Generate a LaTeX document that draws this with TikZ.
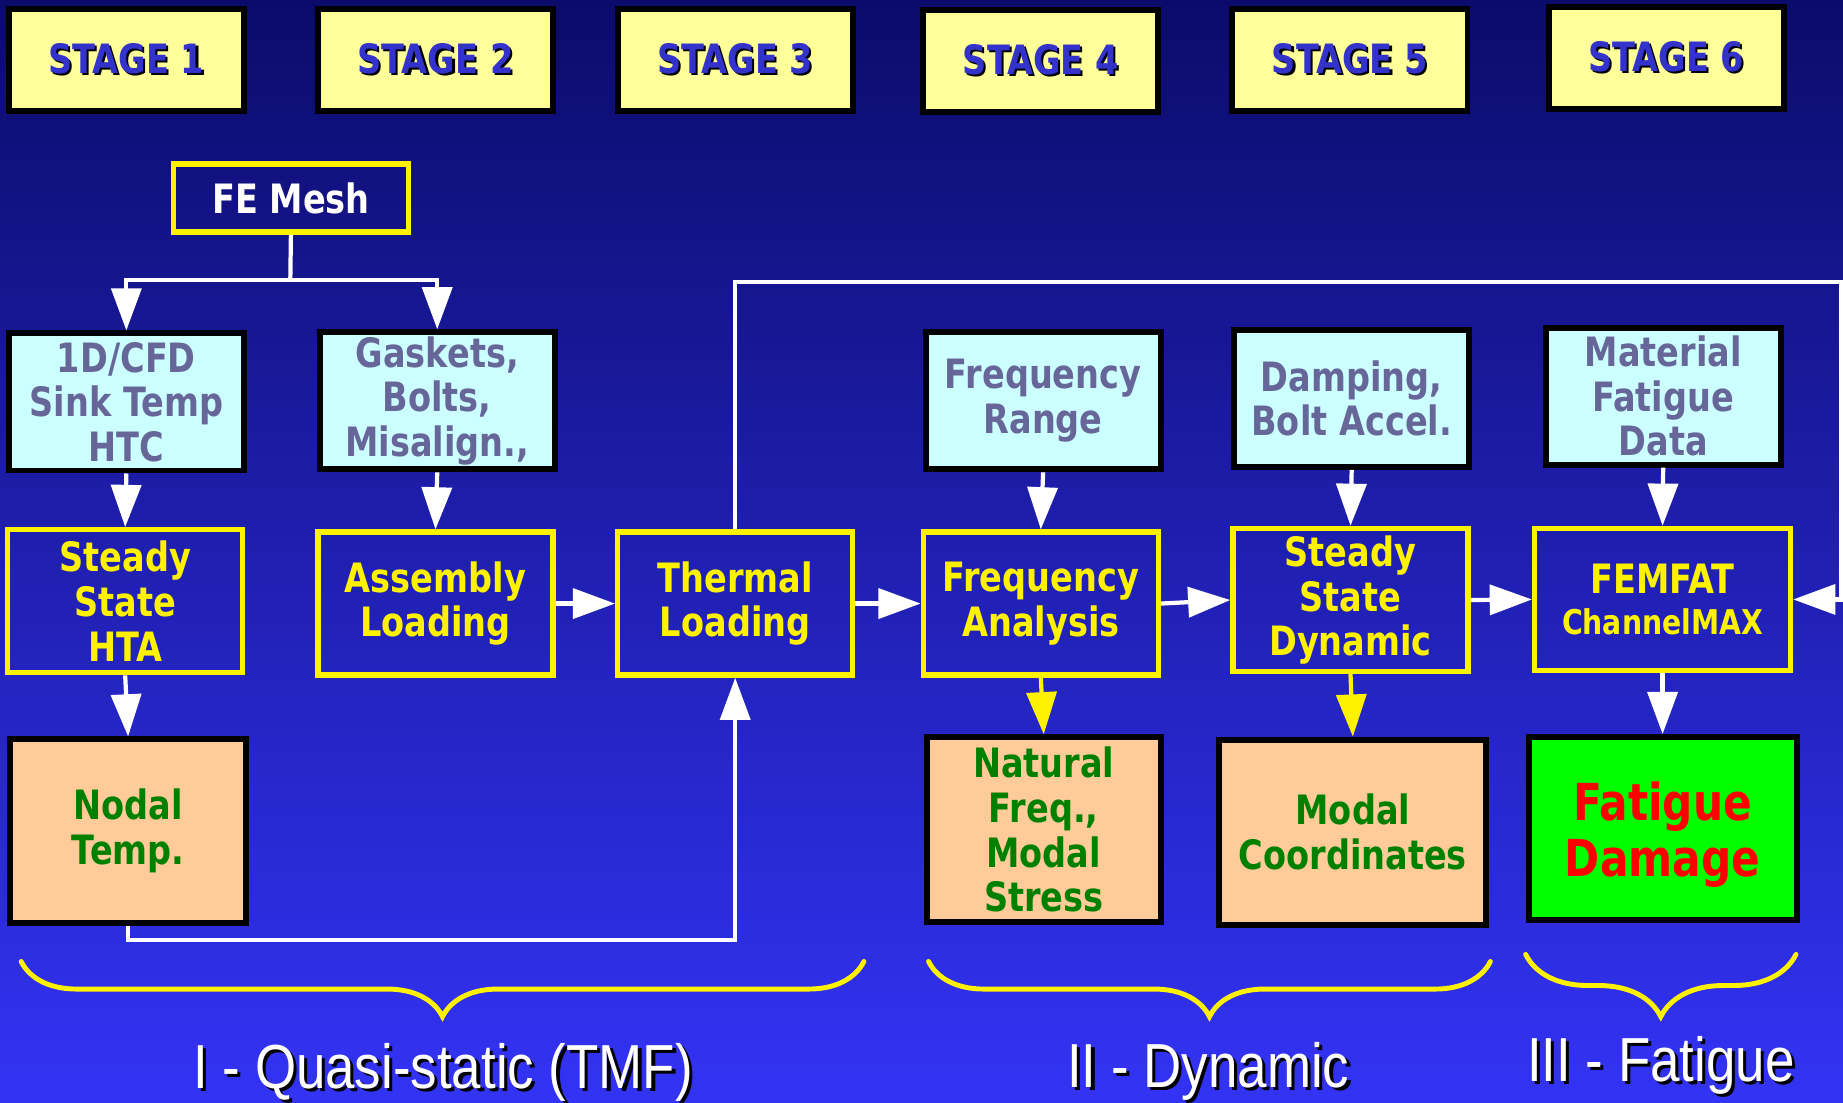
\documentclass[tikz,border=0pt]{standalone}
\usepackage{fontspec}
\setmainfont{DejaVu Sans}
\newfontfamily\boxfont{DejaVu Sans}[FakeStretch=0.83]
\newfontfamily\phasefont{Liberation Sans}[FakeStretch=0.85]
\usetikzlibrary{positioning}
\usetikzlibrary{arrows.meta}
\usetikzlibrary{decorations.pathreplacing}

\definecolor{bgtop}{HTML}{0B0B6B}
\definecolor{bgmid}{HTML}{2222BC}
\definecolor{bgbot}{HTML}{3333F5}
\definecolor{stageyellow}{HTML}{FFFF99}
\definecolor{stageblue}{HTML}{3333CC}
\definecolor{incyan}{HTML}{CCFFFF}
\definecolor{ingray}{HTML}{666699}
\definecolor{outorange}{HTML}{FFCC99}
\definecolor{outgreen}{HTML}{008000}
\definecolor{damagegreen}{HTML}{00FF00}
\definecolor{damagered}{HTML}{FF0000}

% text with a small black drop shadow
\newcommand{\shadowed}[2]{\makebox[0pt][l]{\color{black}\hspace{#2}\raisebox{-#2}{#1}}#1}
\newcommand{\boxtext}{\boxfont\bfseries\fontsize{11.5}{12.7}\selectfont}

\tikzset{
    stagebox/.style = {rectangle, line width=1.7pt, draw=black, fill=stageyellow, text=stageblue, minimum width=2.35cm, minimum height=1.02cm, inner sep=0pt, font=\boxtext},
    meshbox/.style = {rectangle, line width=1.5pt, draw=yellow, text=white, minimum width=2.35cm, minimum height=0.68cm, inner sep=0pt, font=\boxtext},
    inbox/.style = {rectangle, line width=1.7pt, draw=black, fill=incyan, text=ingray, minimum width=2.35cm, minimum height=1.37cm, align=center, inner sep=0pt, font=\boxtext},
    stepbox/.style = {rectangle, line width=1.5pt, draw=yellow, text=yellow, minimum width=2.35cm, minimum height=1.43cm, align=center, inner sep=0pt, font=\boxtext},
    outbox/.style = {rectangle, line width=1.7pt, draw=black, fill=outorange, text=outgreen, minimum width=2.36cm, minimum height=1.83cm, align=center, inner sep=0pt, font=\boxtext},
    wire/.style = {draw=white, line width=1.2pt},
    arrw/.style = {wire, -{Triangle[length=12pt,width=8.5pt]}},
    arry/.style = {draw=yellow, line width=1.2pt, -{Triangle[length=12pt,width=8.5pt]}},
    phasebrace/.style = {draw=yellow, line width=1.4pt, line cap=round, decorate, decoration={brace, mirror, amplitude=#1}},
    phase/.style = {text=white, anchor=base, inner sep=0pt, font=\phasefont\fontsize{17.7}{20}\selectfont}
}

\begin{document}
\begin{tikzpicture}[x=0.011754cm, y=-0.011754cm]

  \useasboundingbox (0,0) rectangle (1568,938);
  \shade[top color=bgtop, middle color=bgmid, bottom color=bgbot] (0,0) rectangle (1568,938);

  % stage headers
  \node[stagebox] (stage1) at (107.5,51) {\shadowed{STAGE 1}{0.6pt}};
  \node[stagebox] (stage2) at (370.5,51) {\shadowed{STAGE 2}{0.6pt}};
  \node[stagebox] (stage3) at (625.5,51) {\shadowed{STAGE 3}{0.6pt}};
  \node[stagebox] (stage4) at (885.5,52) {\shadowed{STAGE 4}{0.6pt}};
  \node[stagebox] (stage5) at (1148.5,51) {\shadowed{STAGE 5}{0.6pt}};
  \node[stagebox] (stage6) at (1417.5,49) {\shadowed{STAGE 6}{0.6pt}};

  \node[meshbox] (mesh) at (247.5,168.5) {FE Mesh};

  % inputs
  \node[inbox] (cfd) at (107.5,342) {1D/CFD\\Sink Temp\\HTC};
  \node[inbox] (gask) at (372,341) {Gaskets,\\Bolts,\\Misalign.,};
  \node[inbox] (frange) at (887.5,341) {Frequency\\Range};
  \node[inbox] (damp) at (1150,339) {Damping,\\Bolt Accel.};
  \node[inbox] (matl) at (1415,337) {Material\\Fatigue\\Data};

  % analysis steps
  \node[stepbox] (hta) at (106.5,511.5) {Steady\\State\\HTA};
  \node[stepbox] (asm) at (370.5,513.5) {Assembly\\Loading};
  \node[stepbox] (therm) at (625.5,513.5) {Thermal\\Loading};
  \node[stepbox] (fana) at (885.5,513.5) {Frequency\\Analysis};
  \node[stepbox] (ssd) at (1149,510.5) {Steady\\State\\Dynamic};
  \node[stepbox, minimum width=2.56cm, minimum height=1.42cm] (femfat) at (1414.5,510)
    {FEMFAT\\[-1pt]{\fontsize{9.7}{11}\selectfont ChannelMAX}};

  % results
  \node[outbox] (nodal) at (109,707) {Nodal\\Temp.};
  \node[outbox, minimum width=2.34cm, minimum height=1.85cm] (natfreq) at (888,706) {Natural\\Freq.,\\Modal\\Stress};
  \node[outbox, minimum width=2.67cm, minimum height=1.85cm] (modal) at (1151,708) {Modal\\Coordinates};
  \node[outbox, minimum width=2.68cm, fill=damagegreen, text=damagered,
    font=\boxfont\bfseries\fontsize{14.5}{16}\selectfont] (damage) at (1414.5,705) {\rule{0pt}{14.5pt}Fatigue\\Damage};

  % connectors
  \coordinate (split) at (247,238);
  \draw[wire] (mesh.south) -- (split);
  \draw[arrw] (split) -| (cfd.north);
  \draw[arrw] (split) -| (gask.north);

  \draw[arrw] (cfd.south) -- (hta.north);
  \draw[arrw] (gask.south) -- (asm.north);
  \draw[arrw] (frange.south) -- (fana.north);
  \draw[arrw] (damp.south) -- (ssd.north);
  \draw[arrw] (matl.south) -- (femfat.north);

  \draw[arrw] (asm.east) -- (therm.west);
  \draw[arrw] (therm.east) -- (fana.west);
  \draw[arrw] (fana.east) -- (ssd.west);
  \draw[arrw] (ssd.east) -- (femfat.west);

  \draw[arrw] (hta.south) -- (nodal.north);
  \draw[arry] (fana.south) -- (natfreq.north);
  \draw[arry] (ssd.south) -- (modal.north);
  \draw[arrw] (femfat.south) -- (damage.north);

  \coordinate (loopS) at (300,800);
  \draw[arrw] (nodal.south) |- (loopS) -| (therm.south);
  \coordinate (loopN) at (1566,240);
  \draw[arrw] (therm.north) |- (loopN) |- (femfat.east);

  % phases
  \draw[phasebrace=15.7pt] (18,818) -- (735,818);
  \draw[phasebrace=15.7pt] (790,818) -- (1268,818);
  \draw[phasebrace=17.7pt] (1298,812) -- (1528,812);

  \node[phase] (quasi) at (377,926) {\shadowed{I - Quasi-static (TMF)}{0.9pt}};
  \node[phase] (dynamic) at (1028,925) {\shadowed{II - Dynamic}{0.9pt}};
  \node[phase] (fatigue) at (1413,920) {\shadowed{III - Fatigue}{0.9pt}};

\end{tikzpicture}
\end{document}
